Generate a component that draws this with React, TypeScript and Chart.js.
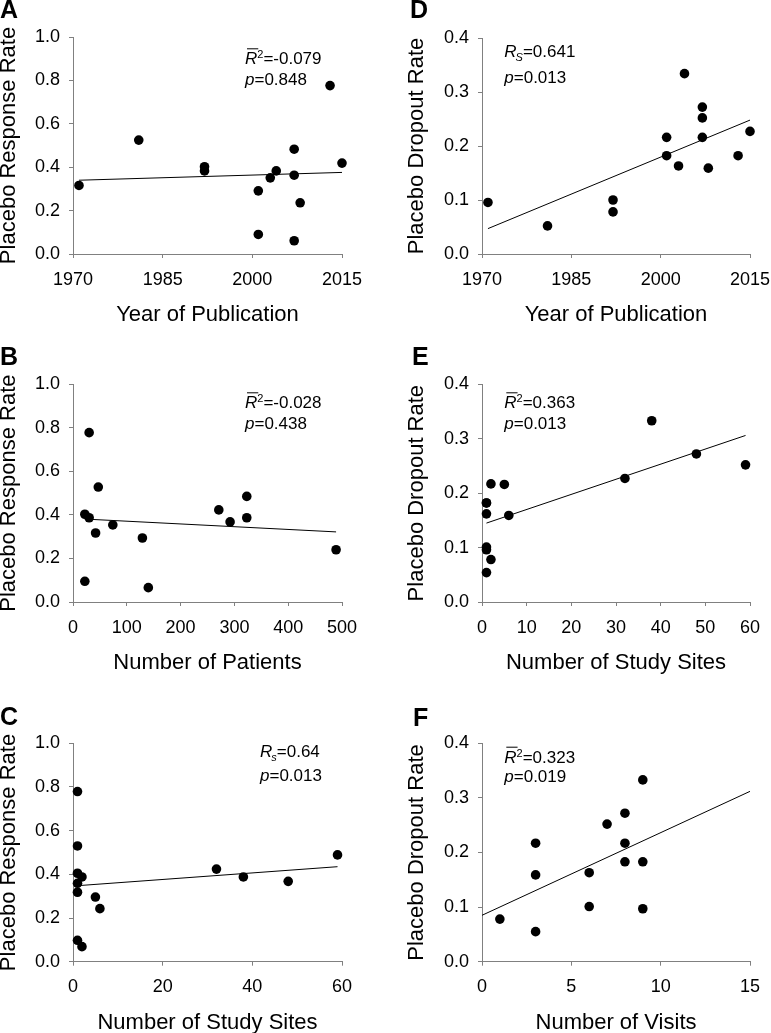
import React, { useEffect, useRef } from 'react';
import { Chart, registerables } from 'chart.js';

Chart.register(...registerables);

const FONT = '"Liberation Sans", Arial, Helvetica, sans-serif';

// ---------- Data ----------
// A: Year of publication vs placebo response rate
const yearA = [1971, 1981, 1992, 1992, 2001, 2001, 2003, 2004, 2007, 2007, 2007, 2008, 2013, 2015];
const respA = [0.316, 0.525, 0.402, 0.383, 0.291, 0.09, 0.351, 0.383, 0.483, 0.363, 0.061, 0.236, 0.776, 0.419];
const trendAx = [1971, 2015];
const trendAy = [0.34, 0.376];

// B: Number of patients vs placebo response rate
const patientsB = [22, 30, 30, 47, 42, 74, 22, 129, 140, 271, 292, 323, 323, 489];
const respB = [0.403, 0.387, 0.778, 0.528, 0.317, 0.354, 0.095, 0.294, 0.066, 0.423, 0.368, 0.485, 0.387, 0.24];
const trendBx = [22, 489];
const trendBy = [0.381, 0.322];

// C: Number of study sites vs placebo response rate
const sitesC = [1, 1, 1, 1, 1, 1, 2, 2, 5, 6, 32, 38, 48, 59];
const respC = [0.779, 0.53, 0.405, 0.359, 0.318, 0.098, 0.388, 0.069, 0.296, 0.243, 0.424, 0.388, 0.368, 0.489];
const trendCx = [1, 59];
const trendCy = [0.348, 0.435];

// D: Year of publication vs placebo dropout rate
const yearD = [1971, 1981, 1992, 1992, 2001, 2001, 2003, 2004, 2007, 2007, 2007, 2008, 2013, 2015];
const dropD = [0.0955, 0.052, 0.1, 0.078, 0.216, 0.182, 0.163, 0.334, 0.272, 0.252, 0.216, 0.159, 0.182, 0.227];
const trendDx = [1971, 2015];
const trendDy = [0.047, 0.248];

// E: Number of study sites vs placebo dropout rate
const sitesE = [1, 1, 1, 1, 1, 1, 2, 2, 5, 6, 32, 38, 48, 59];
const dropE = [0.182, 0.182, 0.162, 0.101, 0.096, 0.054, 0.217, 0.078, 0.216, 0.159, 0.227, 0.333, 0.272, 0.252];
const trendEx = [1, 59];
const trendEy = [0.145, 0.306];

// F: Number of visits vs placebo dropout rate
const visitsF = [1, 3, 3, 3, 6, 6, 7, 8, 8, 8, 9, 9, 9];
const dropF = [0.078, 0.217, 0.159, 0.055, 0.163, 0.101, 0.252, 0.272, 0.217, 0.183, 0.333, 0.183, 0.097];
const trendFx = [0, 15];
const trendFy = [0.085, 0.312];

// Axis tick settings
const yearTicks = { min: 1970, max: 2015, step: 15 };
const patientTicks = { min: 0, max: 500, step: 100 };
const sitesTicksC = { min: 0, max: 60, step: 20 };
const sitesTicksE = { min: 0, max: 60, step: 10 };
const visitTicks = { min: 0, max: 15, step: 5 };
const respTicks = { min: 0, max: 1, step: 0.2 };
const dropTicks = { min: 0, max: 0.4, step: 0.1 };

type Stat = { kind: 'rbar' | 'RS' | 'Rs'; value: string; p: string };

type PanelCfg = {
  letter: string;
  left: number; top: number; width: number; height: number;
  area: { l: number; r: number; t: number; b: number };
  xs: number[]; ys: number[]; tx: number[]; ty: number[];
  xt: { min: number; max: number; step: number };
  yt: { min: number; max: number; step: number };
  xTitle: string; yTitle: string;
  yTitleOffset: number;
  letterPos: [number, number];
  stat: Stat;
  statPos: [number, number, number];
};

const panels: PanelCfg[] = [
  {
    letter: 'A', left: 0, top: 0, width: 385, height: 340,
    area: { l: 73, r: 342, t: 37, b: 254 },
    xs: yearA, ys: respA, tx: trendAx, ty: trendAy, xt: yearTicks, yt: respTicks,
    xTitle: 'Year of Publication', yTitle: 'Placebo Response Rate', yTitleOffset: 0,
    letterPos: [0, 18], stat: { kind: 'rbar', value: '=-0.079', p: '=0.848' }, statPos: [245, 64.3, 85],
  },
  {
    letter: 'D', left: 385, top: 0, width: 386, height: 340,
    area: { l: 97, r: 365, t: 38, b: 254 },
    xs: yearD, ys: dropD, tx: trendDx, ty: trendDy, xt: yearTicks, yt: dropTicks,
    xTitle: 'Year of Publication', yTitle: 'Placebo Dropout Rate', yTitleOffset: 22.7,
    letterPos: [25, 18], stat: { kind: 'RS', value: '=0.641', p: '=0.013' }, statPos: [119.3, 57.3, 83.3],
  },
  {
    letter: 'B', left: 0, top: 340, width: 385, height: 340,
    area: { l: 73, r: 342, t: 44.3, b: 262 },
    xs: patientsB, ys: respB, tx: trendBx, ty: trendBy, xt: patientTicks, yt: respTicks,
    xTitle: 'Number of Patients', yTitle: 'Placebo Response Rate', yTitleOffset: 0,
    letterPos: [0, 25], stat: { kind: 'rbar', value: '=-0.028', p: '=0.438' }, statPos: [245, 68.3, 89.3],
  },
  {
    letter: 'E', left: 385, top: 340, width: 386, height: 340,
    area: { l: 97, r: 365, t: 44.3, b: 262 },
    xs: sitesE, ys: dropE, tx: trendEx, ty: trendEy, xt: sitesTicksE, yt: dropTicks,
    xTitle: 'Number of Study Sites', yTitle: 'Placebo Dropout Rate', yTitleOffset: 22.7,
    letterPos: [27, 25], stat: { kind: 'rbar', value: '=0.363', p: '=0.013' }, statPos: [119.3, 68.3, 89.3],
  },
  {
    letter: 'C', left: 0, top: 680, width: 385, height: 353,
    area: { l: 73, r: 342, t: 63.3, b: 281.7 },
    xs: sitesC, ys: respC, tx: trendCx, ty: trendCy, xt: sitesTicksC, yt: respTicks,
    xTitle: 'Number of Study Sites', yTitle: 'Placebo Response Rate', yTitleOffset: 0,
    letterPos: [0, 45], stat: { kind: 'Rs', value: '=0.64', p: '=0.013' }, statPos: [260, 76.7, 100.7],
  },
  {
    letter: 'F', left: 385, top: 680, width: 386, height: 353,
    area: { l: 97, r: 365, t: 63.3, b: 281.7 },
    xs: visitsF, ys: dropF, tx: trendFx, ty: trendFy, xt: visitTicks, yt: dropTicks,
    xTitle: 'Number of Visits', yTitle: 'Placebo Dropout Rate', yTitleOffset: 22.7,
    letterPos: [28, 46], stat: { kind: 'rbar', value: '=0.323', p: '=0.019' }, statPos: [119.3, 82.7, 101.7],
  },
];

const AXIS_COLOR = '#808080';
const X_SCALE_H = 70;

function drawStat(ctx: CanvasRenderingContext2D, cfg: PanelCfg) {
  const [x, b1, b2] = cfg.statPos;
  const s = cfg.stat;
  ctx.save();
  ctx.fillStyle = '#000';
  ctx.strokeStyle = '#000';
  ctx.textBaseline = 'alphabetic';
  ctx.textAlign = 'left';
  const main = `17px ${FONT}`;
  const ital = `italic 17px ${FONT}`;
  const small = `11px ${FONT}`;
  const smallItal = `italic 11px ${FONT}`;
  // first line
  ctx.font = ital;
  ctx.fillText('R', x, b1);
  let cx = x + ctx.measureText('R').width;
  if (s.kind === 'rbar') {
    ctx.lineWidth = 1;
    ctx.beginPath();
    ctx.moveTo(x + 2, b1 - 15.5);
    ctx.lineTo(cx + 1, b1 - 15.5);
    ctx.stroke();
    ctx.font = small;
    ctx.fillText('2', cx, b1 - 6);
    cx += ctx.measureText('2').width;
  } else {
    ctx.font = smallItal;
    const sub = s.kind === 'RS' ? 'S' : 's';
    ctx.fillText(sub, cx - 1, b1 + 4);
    cx += ctx.measureText(sub).width - 1;
  }
  ctx.font = main;
  ctx.fillText(s.value, cx, b1);
  // second line
  ctx.font = ital;
  ctx.fillText('p', x, b2);
  const pw = ctx.measureText('p').width;
  ctx.font = main;
  ctx.fillText(s.p, x + pw, b2);
  // panel letter
  ctx.font = `bold 25px ${FONT}`;
  ctx.fillText(cfg.letter, cfg.letterPos[0], cfg.letterPos[1]);
  ctx.restore();
}

function Panel({ cfg }: { cfg: PanelCfg }) {
  const ref = useRef<HTMLCanvasElement | null>(null);
  useEffect(() => {
    const canvas = ref.current;
    if (!canvas) return;
    const a = cfg.area;
    const tickFont = { family: FONT, size: 18 };
    const titleFont = { family: FONT, size: 22, lineHeight: 0.82 };
    const chart = new Chart(canvas, {
      type: 'scatter',
      data: {
        datasets: [
          {
            type: 'scatter',
            data: cfg.xs.map((x, i) => ({ x, y: cfg.ys[i] })),
            pointRadius: 4.8,
            pointBackgroundColor: '#000',
            pointBorderWidth: 0,
            pointBorderColor: '#000',
            clip: false,
            order: 0,
          } as any,
          {
            type: 'line',
            data: cfg.tx.map((x, i) => ({ x, y: cfg.ty[i] })),
            borderColor: '#000',
            borderWidth: 1,
            pointRadius: 0,
            fill: false,
            clip: false,
            order: 1,
          } as any,
        ],
      },
      options: {
        animation: false,
        responsive: false,
        devicePixelRatio: 1,
        events: [],
        layout: {
          padding: {
            left: 0,
            top: a.t,
            right: cfg.width - a.r,
            bottom: cfg.height - a.b - X_SCALE_H,
          },
        },
        plugins: {
          legend: { display: false },
          tooltip: { enabled: false },
        },
        scales: {
          x: {
            type: 'linear',
            min: cfg.xt.min,
            max: cfg.xt.max,
            ticks: {
              stepSize: cfg.xt.step,
              font: tickFont,
              color: '#000',
              padding: 11,
              maxRotation: 0,
              autoSkip: false,
              callback: (v: any) => String(Math.round(Number(v))),
            },
            grid: { drawOnChartArea: false, drawTicks: true, tickLength: 4, color: AXIS_COLOR },
            border: { display: true, color: AXIS_COLOR, width: 1 },
            title: { display: true, text: cfg.xTitle, font: titleFont, color: '#000', padding: 0 },
            afterFit: (s: any) => {
              s.height = X_SCALE_H;
              s.paddingLeft = 0;
              s.paddingRight = 0;
            },
          },
          y: {
            type: 'linear',
            min: cfg.yt.min,
            max: cfg.yt.max,
            ticks: {
              stepSize: cfg.yt.step,
              font: tickFont,
              color: '#000',
              padding: 9,
              autoSkip: false,
              callback: (v: any) => Number(v).toFixed(1),
            },
            grid: { drawOnChartArea: false, drawTicks: true, tickLength: 4, color: AXIS_COLOR },
            border: { display: true, color: AXIS_COLOR, width: 1 },
            title: {
              display: true,
              text: cfg.yTitle,
              font: titleFont,
              color: '#000',
              padding: { top: cfg.yTitleOffset, bottom: 0 },
            },
            afterFit: (s: any) => {
              s.width = a.l;
              s.paddingTop = 0;
              s.paddingBottom = 0;
            },
          },
        },
      } as any,
      plugins: [
        {
          id: 'annot',
          afterDraw: (c: any) => drawStat(c.ctx, cfg),
        },
      ],
    });
    return () => chart.destroy();
  }, [cfg]);
  return (
    <canvas
      ref={ref}
      width={cfg.width}
      height={cfg.height}
      style={{
        position: 'absolute',
        left: cfg.left,
        top: cfg.top,
        width: cfg.width,
        height: cfg.height,
        display: 'block',
      }}
    />
  );
}

export default function App() {
  return (
    <div
      style={{
        position: 'absolute',
        left: 0,
        top: 0,
        width: 771,
        height: 1033,
        background: '#fff',
        overflow: 'hidden',
      }}
    >
      {panels.map((p) => (
        <Panel key={p.letter} cfg={p} />
      ))}
    </div>
  );
}
